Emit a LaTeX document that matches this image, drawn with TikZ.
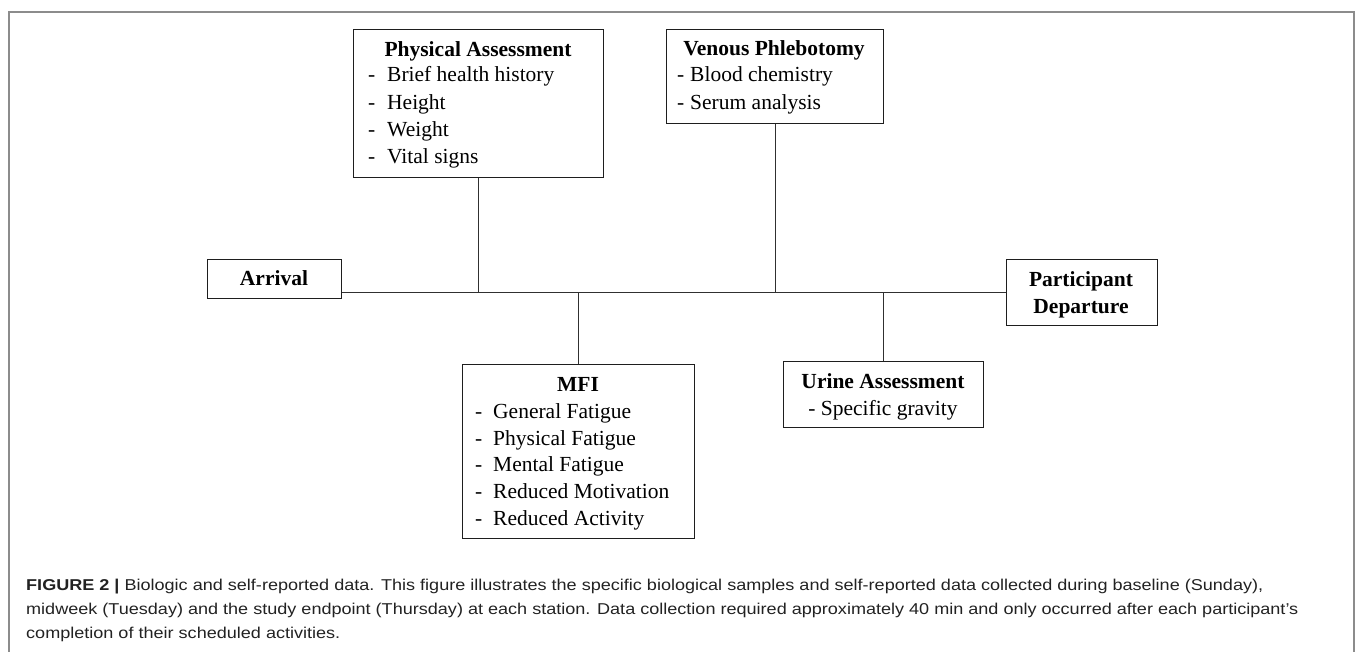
\documentclass[tikz,border=0pt]{standalone}
\usepackage{fontspec}
\setmainfont{Liberation Serif}
\newfontfamily\capfont[FakeStretch=1.15]{Liberation Sans}
\definecolor{boxc}{HTML}{1E1E1E}
\definecolor{linec}{HTML}{303030}
\definecolor{framec}{HTML}{8C8C8C}
\definecolor{capc}{HTML}{222222}
\begin{document}
\begin{tikzpicture}[x=1pt,y=-1pt,
  box/.style={draw=boxc, line width=1.4pt, inner sep=0pt, anchor=north west},
  ttl/.style={inner sep=0pt, anchor=base, font=\fontsize{21.5}{26}\selectfont\bfseries},
  itm/.style={inner sep=0pt, anchor=base west, font=\fontsize{21.5}{26}\selectfont},
  ctr/.style={inner sep=0pt, anchor=base, font=\fontsize{21.5}{26}\selectfont},
  conn/.style={draw=linec, line width=1.4pt},
  captxt/.style={inner sep=0pt, anchor=base west, text=capc, font=\capfont\fontsize{15.7}{24}\selectfont}]
\useasboundingbox (0,0) rectangle (1357,652);
\draw[framec, line width=1.5pt] (9,652) -- (9,12) -- (1354,12) -- (1354,652);

% boxes
\node[box, minimum width=250pt, minimum height=148pt] (phys) at (353,29) {};
\node[box, minimum width=217pt, minimum height=94pt] (ven) at (666,29) {};
\node[box, minimum width=134pt, minimum height=39pt] (arr) at (207,259) {};
\node[box, minimum width=151pt, minimum height=66pt] (dep) at (1006,259) {};
\node[box, minimum width=232pt, minimum height=174pt] (mfi) at (462,364) {};
\node[box, minimum width=200pt, minimum height=66pt] (uri) at (783,361) {};

% connectors
\draw[conn] (arr.east |- dep.west) -- (dep.west);
\draw[conn] (phys.south) -- (phys.south |- dep.west);
\draw[conn] (ven.south) -- (ven.south |- dep.west);
\draw[conn] (mfi.north) -- (mfi.north |- dep.west);
\draw[conn] (uri.north) -- (uri.north |- dep.west);

% Physical Assessment
\node[ttl] (physT) at (478,57) {Physical Assessment};
\node[itm] (phys1) at (368,82) {\makebox[19pt][l]{-}Brief health history};
\node[itm] (phys2) at (368,110) {\makebox[19pt][l]{-}Height};
\node[itm] (phys3) at (368,137) {\makebox[19pt][l]{-}Weight};
\node[itm] (phys4) at (368,164) {\makebox[19pt][l]{-}Vital signs};

% Venous Phlebotomy
\node[ttl] (venT) at (774,56) {Venous Phlebotomy};
\node[itm] (ven1) at (677,82) {\makebox[13pt][l]{-}Blood chemistry};
\node[itm] (ven2) at (677,110) {\makebox[13pt][l]{-}Serum analysis};

% Arrival / Departure
\node[ttl] (arrT) at (274,286) {Arrival};
\node[ttl] (depT1) at (1081,287) {Participant};
\node[ttl] (depT2) at (1081,313) {Departure};

% MFI
\node[ttl] (mfiT) at (578,391) {MFI};
\node[itm] (mfi1) at (475,418) {\makebox[18pt][l]{-}General Fatigue};
\node[itm] (mfi2) at (475,445) {\makebox[18pt][l]{-}Physical Fatigue};
\node[itm] (mfi3) at (475,471.5) {\makebox[18pt][l]{-}Mental Fatigue};
\node[itm] (mfi4) at (475,498) {\makebox[18pt][l]{-}Reduced Motivation};
\node[itm] (mfi5) at (475,525) {\makebox[18pt][l]{-}Reduced Activity};

% Urine
\node[ttl] (uriT) at (883,388) {Urine Assessment};
\node[ctr] (uri1) at (883,415) {- Specific gravity};

% caption
\node[captxt] (cap1) at (26,590) {\textbf{FIGURE 2 |} Biologic and self-reported data. This figure illustrates the specific biological samples and self-reported data collected during baseline (Sunday),};
\node[captxt] (cap2) at (26,614) {midweek (Tuesday) and the study endpoint (Thursday) at each station. Data collection required approximately 40 min and only occurred after each participant’s};
\node[captxt] (cap3) at (26,638) {completion of their scheduled activities.};
\end{tikzpicture}
\end{document}
